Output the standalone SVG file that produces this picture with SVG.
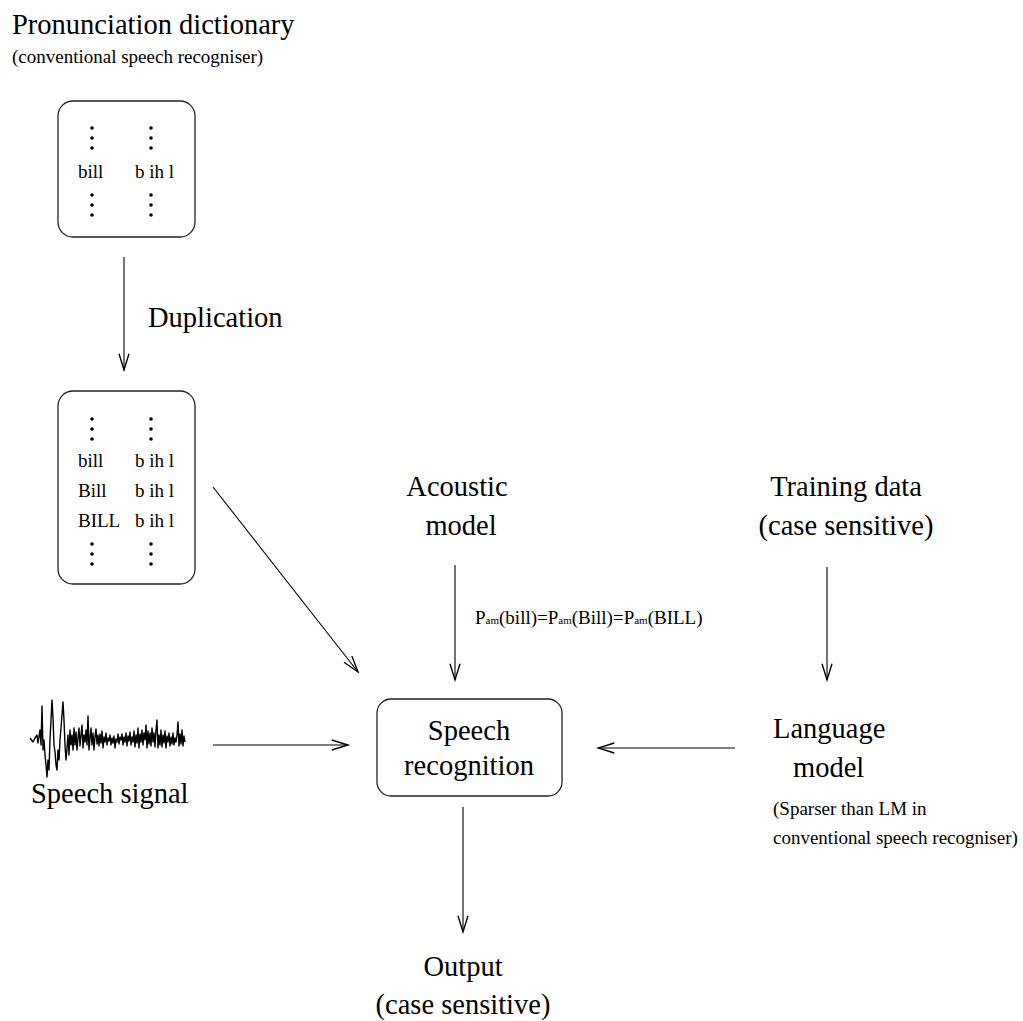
<svg xmlns="http://www.w3.org/2000/svg" width="1023" height="1021" viewBox="0 0 1023 1021">
  <style>
    text { font-family: "Liberation Serif", "Times New Roman", serif; fill: #000; }
    .big { font-size: 28.5px; }
    .small { font-size: 19px; }
    .sub { font-size: 11px; }
    .box { fill: none; stroke: #222; stroke-width: 1.3; }
    .edge { fill: none; stroke: #000; stroke-width: 1.1; }
    .dot { fill: #000; }
  </style>
  <defs>
    <marker id="open" markerUnits="userSpaceOnUse" markerWidth="20" markerHeight="20" viewBox="-14 -7 16 14" refX="0" refY="0" orient="auto">
      <path d="M-13,-4 L0,0 L-13,4" fill="none" stroke="#000" stroke-width="1.1"/>
    </marker>
    <g id="dots3">
      <circle class="dot" cx="0" cy="0" r="1.8"/>
      <circle class="dot" cx="0" cy="10" r="1.8"/>
      <circle class="dot" cx="0" cy="20" r="1.8"/>
    </g>
  </defs>

  <!-- header -->
  <g id="title">
    <text class="big" x="12" y="34">Pronunciation dictionary</text>
    <text class="small" x="12" y="63">(conventional speech recogniser)</text>
  </g>

  <!-- conventional dictionary -->
  <g id="dict-conventional">
    <rect class="box" x="58" y="101" width="137" height="136" rx="15" ry="15"/>
    <use href="#dots3" x="92" y="128"/>
    <use href="#dots3" x="151" y="128"/>
    <text class="small" x="78" y="178">bill</text>
    <text class="small" x="135" y="178">b ih l</text>
    <use href="#dots3" x="92" y="195"/>
    <use href="#dots3" x="151" y="195"/>
  </g>

  <!-- duplicated dictionary -->
  <g id="dict-duplicated">
    <rect class="box" x="58" y="391" width="137" height="193" rx="15" ry="15"/>
    <use href="#dots3" x="92" y="419"/>
    <use href="#dots3" x="151" y="419"/>
    <text class="small" x="78" y="467">bill</text>
    <text class="small" x="135" y="467">b ih l</text>
    <text class="small" x="78" y="497">Bill</text>
    <text class="small" x="135" y="497">b ih l</text>
    <text class="small" x="78" y="527">BILL</text>
    <text class="small" x="135" y="527">b ih l</text>
    <use href="#dots3" x="92" y="544"/>
    <use href="#dots3" x="151" y="544"/>
  </g>

  <g id="acoustic-model">
    <text class="big" x="457" y="496" text-anchor="middle">Acoustic</text>
    <text class="big" x="461" y="535" text-anchor="middle">model</text>
  </g>

  <g id="training-data">
    <text class="big" x="846" y="496" text-anchor="middle">Training data</text>
    <text class="big" x="846" y="535" text-anchor="middle">(case sensitive)</text>
  </g>

  <g id="speech-signal">
    <!-- waveform trace: large onset spikes, then a noisy tail -->
    <polyline fill="none" stroke="#000" stroke-width="1.4" stroke-linejoin="round" points="30,738 33,742 35,738 37,735 38,743 40,730 41,745 42,706 43,750 44,740 45,755 46,765 47,777 48,760 49,770 50,740 51,720 52,700 53,718 54,745 55,752 56,765 57,770 58,750 59,760 60,740 61,728 62,715 63,702 64,720 65,745 66,760 67,748 68,735 69,755 70,730 71,745 72,735 73,750 74,728 75,745 76,732 77,750 78,738 79,728 80,746 81,735 82,725 83,748 84,735 85,742 86,730 87,745 88,716 89,750 90,738 91,728 92,745 93,733 94,750 95,737 96,729 97,744 98,735 99,746 100,734 101,743 102,731 103,748 104,737 105,742 106,733 107,745 108,738 109,741 110,735 111,745 112,738 113,743 114,736 115,748 116,739 117,742 118,734 119,744 120,737 121,740 122,734 123,745 124,737 125,742 126,733 127,746 128,736 129,741 130,732 131,745 132,737 133,742 134,731 135,747 136,735 137,743 138,728 139,748 140,734 141,742 142,730 143,745 144,733 145,740 146,725 147,748 148,731 149,744 150,733 151,746 152,728 153,742 154,733 155,747 156,730 157,720 158,748 159,735 160,745 161,730 162,747 163,735 164,743 165,731 166,748 167,736 168,742 169,733 170,746 171,737 172,744 173,733 174,745 175,738 176,742 177,735 178,722 179,746 180,734 181,744 182,730 183,746 184,736 185,742"/>
    <text class="big" x="31" y="803">Speech signal</text>
  </g>

  <g id="speech-recognition">
    <rect class="box" x="377" y="699" width="185" height="97" rx="14" ry="14"/>
    <text class="big" x="469" y="740" text-anchor="middle">Speech</text>
    <text class="big" x="469" y="775" text-anchor="middle">recognition</text>
  </g>

  <g id="language-model">
    <text class="big" x="773" y="738">Language</text>
    <text class="big" x="793" y="777">model</text>
    <text class="small" x="773" y="815">(Sparser than LM in</text>
    <text class="small" x="773" y="844">conventional speech recogniser)</text>
  </g>

  <g id="output">
    <text class="big" x="463" y="976" text-anchor="middle">Output</text>
    <text class="big" x="463" y="1014" text-anchor="middle">(case sensitive)</text>
  </g>

  <!-- connectors -->
  <g id="connectors">
    <line class="edge" x1="124" y1="257" x2="124" y2="370" marker-end="url(#open)"/>
    <text class="big" x="148" y="327">Duplication</text>
    <line class="edge" x1="213" y1="487" x2="358" y2="672" marker-end="url(#open)"/>
    <line class="edge" x1="455" y1="565" x2="455" y2="680" marker-end="url(#open)"/>
    <text class="small" x="475" y="624">P<tspan class="sub">am</tspan>(bill)=P<tspan class="sub">am</tspan>(Bill)=P<tspan class="sub">am</tspan>(BILL)</text>
    <line class="edge" x1="827" y1="567" x2="827" y2="680" marker-end="url(#open)"/>
    <line class="edge" x1="213" y1="745" x2="348" y2="745" marker-end="url(#open)"/>
    <line class="edge" x1="735" y1="748" x2="598" y2="748" marker-end="url(#open)"/>
    <line class="edge" x1="463" y1="807" x2="463" y2="932" marker-end="url(#open)"/>
  </g>
</svg>
